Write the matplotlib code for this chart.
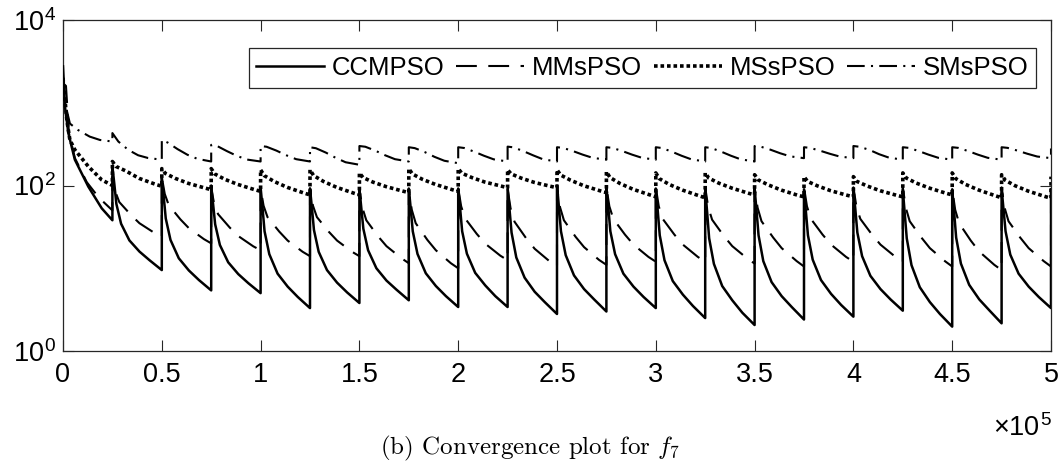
import matplotlib
matplotlib.use("Agg")
import matplotlib.pyplot as plt

plt.rcParams['font.family'] = ['Liberation Sans', 'DejaVu Sans']
plt.rcParams['mathtext.fontset'] = 'custom'
plt.rcParams['mathtext.rm'] = 'Liberation Sans'
plt.rcParams['mathtext.it'] = 'cmmi10'
plt.rcParams['mathtext.sf'] = 'cmr10'

RESTART = 25000

# ---------------- data ----------------
series_names = ["CCMPSO", "MMsPSO", "MSsPSO", "SMsPSO"]

# CCMPSO (solid)
ccm_first_offsets = [0, 1000, 2700, 6000, 12800, 19600, 25000]
ccm_first_values = [2750, 890, 430, 205, 97, 53, 38]
ccm_offsets = [0, 1000, 2000, 4400, 8600, 13700, 18800, 25000]
ccm_cycles = [
    [170, 103, 60, 34.5, 21.7, 15.9, 12.5, 9.5],
    [125, 72, 40, 22, 13.2, 9.4, 7.2, 5.4],
    [100, 59, 34, 19.1, 11.8, 8.5, 6.6, 5.0],
    [95, 53, 28, 14.8, 8.6, 6.0, 4.5, 3.3],
    [92, 53, 29, 15.8, 9.5, 6.7, 5.1, 3.8],
    [92, 53, 30, 16.5, 10.0, 7.1, 5.5, 4.1],
    [92, 52, 28, 14.9, 8.7, 6.1, 4.6, 3.4],
    [92, 52, 28, 15.0, 8.8, 6.2, 4.6, 3.4],
    [95, 51, 27, 13.5, 7.7, 5.2, 3.9, 2.8],
    [100, 54, 28, 14.4, 8.2, 5.6, 4.2, 3.0],
    [95, 53, 28, 14.8, 8.6, 6.0, 4.5, 3.3],
    [92, 49, 25, 12.5, 7.0, 4.8, 3.5, 2.5],
    [92, 47, 23, 11.3, 6.1, 4.1, 2.9, 2.06],
    [92, 49, 25, 12.2, 6.8, 4.6, 3.4, 2.4],
    [90, 48, 25, 12.7, 7.2, 4.9, 3.6, 2.6],
    [92, 51, 27, 14.0, 8.1, 5.6, 4.2, 3.07],
    [90, 46, 23, 10.9, 5.9, 3.9, 2.8, 1.97],
    [90, 47, 23.5, 11.4, 6.3, 4.2, 3.1, 2.16],
    [92, 51, 28, 14.6, 8.6, 6.0, 4.5, 3.3],
]
ccm_final = 90

# MMsPSO (dashed)
mms_first_offsets = [0, 1500, 3000, 6000, 12000, 18000, 25000]
mms_first_values = [1700, 1600, 430, 215, 110, 72, 50]
mms_offsets = [0, 1500, 3500, 9400, 13700, 21300, 25000]
mms_cycles = [
    [128, 84, 63, 44, 35, 26.7, 24],
    [126, 79, 58, 39, 30.5, 22.5, 20],
    [93, 60, 45, 31, 24.5, 18.4, 16.5],
    [92, 57, 41.5, 27.8, 21.6, 15.8, 14],
    [92, 57, 41.5, 27.8, 21.6, 15.8, 14],
    [91, 54, 38, 24.4, 18.5, 13.2, 11.5],
    [89, 51, 35, 22, 16.5, 11.5, 10],
    [93, 56, 40, 26, 19.8, 14.2, 12.5],
    [91, 53, 36.5, 23, 17.2, 12.1, 10.5],
    [95, 55, 38, 24, 18, 12.6, 11],
    [95, 56, 39.5, 25.5, 19.3, 13.7, 12],
    [95, 56, 39.5, 25.5, 19.3, 13.7, 12],
    [95, 55, 38.6, 24.6, 18.5, 13.1, 11.4],
    [95, 54, 37, 23.5, 17.5, 12.2, 10.5],
    [95, 56, 39.5, 25.5, 19.3, 13.7, 12],
    [95, 56, 39.5, 25.5, 19.3, 13.7, 12],
    [95, 54, 37, 23.5, 17.5, 12.2, 10.5],
    [91, 51, 35, 21.6, 15.9, 11, 9.5],
    [95, 54, 37, 23.5, 17.5, 12.2, 10.5],
]
mms_final = 90

# MSsPSO (dotted)
mss_first_offsets = [0, 2000, 3500, 6000, 12800, 19600, 25000]
mss_first_values = [2000, 600, 355, 270, 170, 117, 100]
mss_offsets = [0, 1800, 6800, 13500, 22000, 25000]
mss_cycles = [
    [195, 170, 150, 122, 103, 98],
    [160, 140, 122, 106, 93, 89],
    [160, 138, 119, 103, 89, 85],
    [155, 132, 112, 95, 81, 77],
    [155, 132, 112, 95, 81, 77],
    [142, 125, 110, 97, 85.5, 82],
    [160, 138, 119, 103, 89, 85],
    [160, 141, 125, 110, 98, 94],
    [155, 138, 123, 109, 97.5, 94],
    [155, 134, 116, 99.5, 86, 82],
    [147, 125, 106, 90, 77, 73],
    [142, 121, 103, 88, 75, 71],
    [142, 123, 107, 93, 80.5, 77],
    [135, 117, 102, 88, 76, 73],
    [128, 112, 99, 86.5, 76, 73],
    [128, 112, 99, 86.5, 76, 73],
    [142, 123, 107, 93, 80.5, 77],
    [142, 121, 103, 88, 75, 71],
    [135, 116, 99.5, 85.5, 73.6, 70],
]
mss_final = 128

# SMsPSO (dash-dot)
sms_first_offsets = [0, 1000, 3500, 7500, 13500, 18700, 25000]
sms_first_values = [2000, 1000, 560, 470, 390, 355, 340]
sms_offsets = [0, 3000, 8000, 13000, 18000, 25000]
sms_cycles = [
    [430, 340, 270, 232, 215, 205],
    [355, 330, 275, 235, 210, 195],
    [310, 300, 260, 228, 206, 195],
    [300, 294, 264, 232, 208, 195],
    [290, 282, 250, 216, 191, 178],
    [300, 294, 264, 232, 208, 195],
    [290, 283, 254, 222, 199, 186],
    [290, 284, 257, 229, 207, 195],
    [295, 289, 260, 231, 207, 195],
    [290, 285, 261, 236, 216, 205],
    [290, 285, 261, 236, 216, 205],
    [290, 284, 257, 229, 207, 195],
    [290, 284, 257, 229, 207, 195],
    [300, 295, 271, 245, 225, 214],
    [290, 285, 264, 242, 224, 214],
    [300, 294, 270, 239, 217, 205],
    [290, 285, 261, 236, 216, 205],
    [290, 285, 261, 236, 216, 205],
    [290, 285, 264, 242, 224, 214],
]
sms_final = 280

x_tick_values = [0, 50000, 100000, 150000, 200000, 250000, 300000, 350000, 400000, 450000, 500000]
x_tick_labels = ["0", "0.5", "1", "1.5", "2", "2.5", "3", "3.5", "4", "4.5", "5"]
y_tick_values = [1, 100, 10000]
y_tick_labels = [r"$10^{0}$", r"$10^{2}$", r"$10^{4}$"]


def build(first_offsets, first_values, offsets, cycles, final):
    xs = list(first_offsets)
    ys = list(first_values)
    for k, vals in enumerate(cycles, start=1):
        xs += [k * RESTART + o for o in offsets]
        ys += list(vals)
    xs.append((len(cycles) + 1) * RESTART)
    ys.append(final)
    return xs, ys


fig = plt.figure(figsize=(10.62, 4.65), dpi=100)
ax = fig.add_axes([63 / 1062, 1 - 351 / 465, 988 / 1062, 331 / 465])

styles = [
    dict(color="black", lw=1.8, linestyle="-", zorder=5),
    dict(color="black", lw=1.5, linestyle=(0, (10, 5.5)), zorder=4),
    dict(color="black", lw=2.6, linestyle=(0, (1.0, 0.8)), zorder=3),
    dict(color="black", lw=1.5, linestyle=(0, (8.5, 3, 1, 3)), zorder=2),
]
data = [
    build(ccm_first_offsets, ccm_first_values, ccm_offsets, ccm_cycles, ccm_final),
    build(mms_first_offsets, mms_first_values, mms_offsets, mms_cycles, mms_final),
    build(mss_first_offsets, mss_first_values, mss_offsets, mss_cycles, mss_final),
    build(sms_first_offsets, sms_first_values, sms_offsets, sms_cycles, sms_final),
]
for name, (xs, ys), st in zip(series_names, data, styles):
    ax.plot(xs, ys, label=name, **st)

ax.set_yscale("log")
ax.set_xlim(0, 500000)
ax.set_ylim(1, 10000)
ax.set_xticks(x_tick_values)
ax.set_xticklabels(x_tick_labels)
ax.set_yticks(y_tick_values)
ax.set_yticklabels(y_tick_labels)
ax.minorticks_off()
ax.tick_params(direction="in", top=True, right=True, length=8, width=0.8,
               colors="#262626", labelcolor="black", labelsize=19.5)
ax.tick_params(axis="x", pad=8)
ax.tick_params(axis="y", pad=5)
for sp in ax.spines.values():
    sp.set_color("#262626")
    sp.set_linewidth(0.9)

leg = ax.legend(loc="upper right", bbox_to_anchor=(0.985, 0.915), borderaxespad=0,
                ncol=4, fontsize=18.5, handlelength=2.65, handletextpad=0.3,
                columnspacing=0.45, fancybox=False, framealpha=1, borderpad=0.3)
leg.get_frame().set_edgecolor("#262626")
leg.get_frame().set_linewidth(0.9)

fig.text(1052 / 1062, 1 - 428 / 465, r"×$10^{5}$", ha="right", va="center", fontsize=19.5)
fig.text(0.499, 1 - 448 / 465, r"(b) Convergence plot for $f_{\mathsf{7}}$",
         family="cmr10", ha="center", va="center", fontsize=18)

fig.savefig("out.png", dpi=100)
